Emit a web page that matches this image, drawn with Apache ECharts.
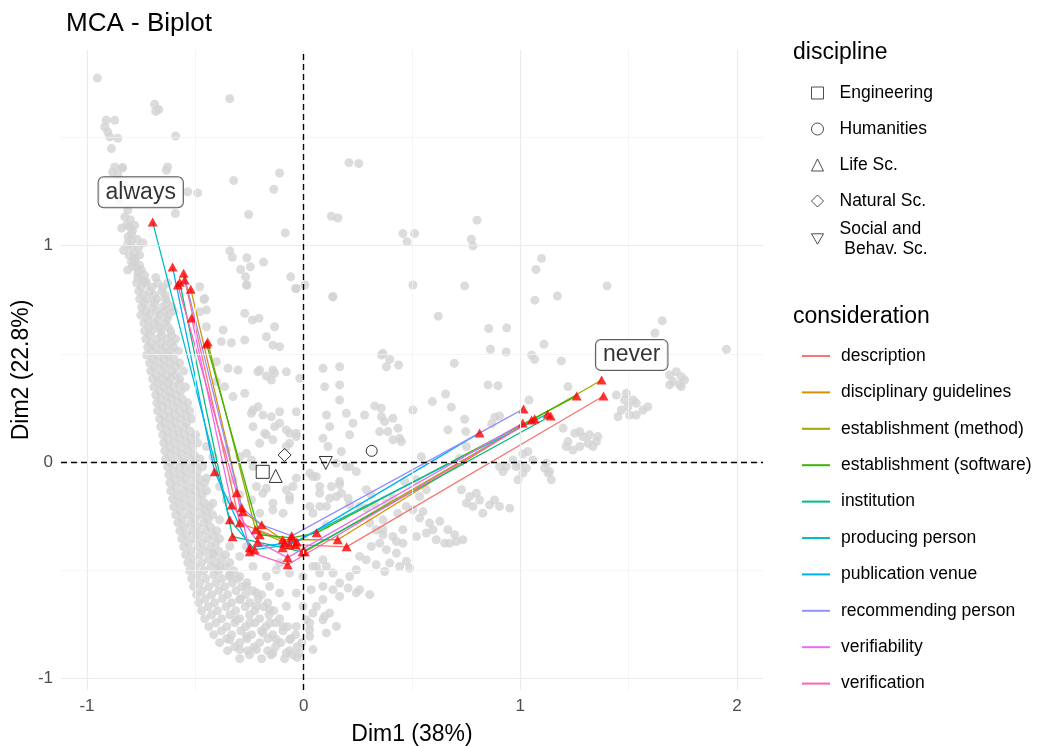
<!DOCTYPE html>
<html><head><meta charset="utf-8">
<script src="https://cdn.jsdelivr.net/npm/echarts@6/dist/echarts.min.js"></script>
<style>html,body{margin:0;padding:0;background:#fff}#c{width:1038px;height:746px}</style>
</head><body><div id="c"></div>
<script>
const FONT = '"Liberation Sans", Arial, sans-serif';

// axes
const xTicks = [-1, 0, 1, 2];
const yTicks = [-1, 0, 1];
const xMajorGrid = [-1, 0, 1, 2];
const xMinorGrid = [-0.5, 0.5, 1.5];
const yMajorGrid = [-1, 0, 1];
const yMinorGrid = [-0.5, 0.5, 1.5];
const refLines = [0];

// individuals (grey cloud)
const indUpperLeft = [
 [-0.952,1.775],[-0.688,1.654],[-0.669,1.630],[-0.683,1.621],[-0.911,1.580],[-0.872,1.580],[-0.918,1.549],
 [-0.904,1.526],[-0.895,1.503],[-0.858,1.497],[-0.887,1.449],[-0.591,1.507],[-0.341,1.680],[-0.872,1.364],
 [-0.835,1.361],[-0.882,1.341],[-0.628,1.364],[-0.634,1.349],[-0.535,1.249],[-0.489,1.244],[-0.592,1.149],
 [-0.323,1.301],[-0.111,1.336],[-0.138,1.261],[-0.254,1.144],[-0.085,1.059],
 [-0.826,1.133],[-0.818,1.095],[-0.803,1.087],[-0.780,1.095],[-0.795,1.056],[-0.811,1.041],[-0.742,1.013],
 [-0.795,0.994],[-0.780,0.964],[-0.757,0.956],[-0.772,0.902],[-0.749,0.887],[-0.765,0.871],[-0.742,0.841],
 [-0.795,0.925],[-0.683,0.853],[-0.840,1.358],[-0.858,1.326],[-0.826,1.279],[-0.849,1.210],[-0.812,1.164],
 [-0.840,1.081],[-0.794,1.025],[-0.831,0.979],[-0.785,0.942],[-0.757,0.910],[-0.812,0.887],[-0.766,0.850],
 [-0.734,0.864],[-0.800,1.120],[-0.790,1.070],[-0.770,1.030],[-0.762,0.990],[-0.778,0.935],[-0.760,0.880],
 [-0.728,0.835],[-0.812,1.010],[-0.805,0.955],[-0.790,0.905]
];
const indUpperMid = [
 [-0.341,0.976],[-0.329,0.946],[-0.262,0.944],[-0.291,0.890],[-0.246,0.902],[-0.185,0.924],[-0.268,0.856],
 [-0.262,0.818],[-0.060,0.856],[-0.037,0.802],[0.005,0.818],[0.209,1.384],[0.254,1.380],[0.128,1.136],
 [0.158,1.128],[0.458,1.056],[0.512,1.056],[0.477,1.018],[0.134,0.764],[-0.457,0.756],[-0.480,0.810],
 [0.800,1.118],[0.774,1.030],[0.781,0.999],[1.098,0.941],[1.072,0.890],[0.504,0.818],[0.743,0.814],
 [1.400,0.814],[1.171,0.767],[1.067,0.748],[0.621,0.674],[0.854,0.617],[0.937,0.620]
];
const indBand = [
 [-0.771,0.827],[-0.729,0.827],[-0.674,0.827],[-0.628,0.827],
 [-0.761,0.790],[-0.711,0.790],[-0.655,0.790],
 [-0.757,0.753],[-0.720,0.753],[-0.678,0.753],[-0.637,0.753],
 [-0.748,0.716],[-0.697,0.716],[-0.651,0.716],[-0.609,0.716],
 [-0.752,0.679],[-0.711,0.679],[-0.665,0.679],[-0.623,0.679],
 [-0.738,0.642],[-0.688,0.642],[-0.641,0.642],
 [-0.734,0.605],[-0.701,0.605],[-0.660,0.605],[-0.614,0.605],
 [-0.729,0.568],[-0.678,0.568],[-0.632,0.568],[-0.591,0.568],
 [-0.720,0.531],[-0.683,0.531],[-0.641,0.531],[-0.600,0.531],
 [-0.725,0.494],[-0.674,0.494],[-0.628,0.494],
 [-0.711,0.457],[-0.665,0.457],[-0.618,0.457],[-0.572,0.457],
 [-0.706,0.420],[-0.655,0.420],[-0.609,0.420],[-0.554,0.420],
 [-0.697,0.383],[-0.655,0.383],[-0.614,0.383],[-0.572,0.383],
 [-0.692,0.346],[-0.646,0.346],[-0.600,0.346],[-0.545,0.346],
 [-0.683,0.309],[-0.637,0.309],[-0.591,0.309],
 [-0.678,0.273],[-0.632,0.273],[-0.581,0.273],[-0.535,0.273],
 [-0.674,0.236],[-0.623,0.236],[-0.572,0.236],[-0.526,0.236],
 [-0.665,0.199],[-0.618,0.199],[-0.568,0.199],[-0.517,0.199],
 [-0.660,0.162],[-0.609,0.162],[-0.554,0.162],
 [-0.651,0.125],[-0.600,0.125],[-0.549,0.125],[-0.498,0.125],
 [-0.646,0.088],[-0.595,0.088],[-0.540,0.088],[-0.489,0.088],
 [-0.641,0.051],[-0.591,0.051],[-0.535,0.051],
 [-0.637,0.014],[-0.581,0.014],[-0.526,0.014],[-0.480,0.014],
 [-0.628,-0.023],[-0.572,-0.023],[-0.517,-0.023],[-0.466,-0.023],
 [-0.623,-0.060],[-0.568,-0.060],[-0.512,-0.060],
 [-0.618,-0.097],[-0.563,-0.097],[-0.503,-0.097],[-0.457,-0.097],
 [-0.614,-0.134],[-0.554,-0.134],[-0.498,-0.134],[-0.448,-0.134],
 [-0.605,-0.171],[-0.549,-0.171],[-0.489,-0.171],
 [-0.600,-0.208],[-0.540,-0.208],[-0.480,-0.208],[-0.434,-0.208],
 [-0.591,-0.245],[-0.531,-0.245],[-0.471,-0.245],[-0.420,-0.245],
 [-0.581,-0.282],[-0.521,-0.282],[-0.461,-0.282],
 [-0.572,-0.319],[-0.512,-0.319],[-0.452,-0.319],[-0.401,-0.319],
 [-0.563,-0.356],[-0.503,-0.356],[-0.443,-0.356],[-0.388,-0.356],
 [-0.554,-0.393],[-0.489,-0.393],[-0.429,-0.393],
 [-0.545,-0.430],[-0.480,-0.430],[-0.415,-0.430],[-0.360,-0.430],
 [-0.535,-0.467],[-0.471,-0.467],[-0.406,-0.467],[-0.341,-0.467],
 [-0.526,-0.503],[-0.461,-0.503],[-0.392,-0.503],[-0.323,-0.503],
 [-0.517,-0.540],[-0.452,-0.540],[-0.378,-0.540],[-0.305,-0.540],
 [-0.508,-0.577],[-0.438,-0.577],[-0.365,-0.577],[-0.286,-0.577],
 [-0.494,-0.614],[-0.425,-0.614],[-0.351,-0.614],[-0.268,-0.614],[-0.194,-0.614],
 [-0.485,-0.651],[-0.411,-0.651],[-0.332,-0.651],[-0.249,-0.651],[-0.166,-0.651],
 [-0.471,-0.688],[-0.397,-0.688],[-0.314,-0.688],[-0.226,-0.688],[-0.138,-0.688],
 [-0.457,-0.725],[-0.378,-0.725],[-0.295,-0.725],[-0.203,-0.725],[-0.111,-0.725],
 [-0.438,-0.762],[-0.355,-0.762],[-0.268,-0.762],[-0.175,-0.762],[-0.074,-0.762],
 [-0.415,-0.799],[-0.332,-0.799],[-0.240,-0.799],[-0.143,-0.799],[-0.037,-0.799],
 [-0.388,-0.836],[-0.295,-0.836],[-0.203,-0.836],[-0.106,-0.836],[-0.009,-0.836],
 [-0.351,-0.873],[-0.258,-0.873],[-0.166,-0.873],[-0.065,-0.873],
 [-0.295,-0.910],[-0.194,-0.910],[-0.088,-0.910],[-0.030,-0.905]
];
const indBandFill = [
 [-0.750,0.808],[-0.700,0.808],[-0.650,0.808],
 [-0.740,0.771],[-0.690,0.771],[-0.640,0.771],
 [-0.735,0.734],[-0.688,0.734],[-0.630,0.734],
 [-0.728,0.697],[-0.680,0.697],[-0.640,0.697],[-0.600,0.697],
 [-0.720,0.660],[-0.675,0.660],[-0.630,0.660],
 [-0.715,0.623],[-0.668,0.623],[-0.625,0.623],
 [-0.712,0.586],[-0.655,0.586],[-0.610,0.586],
 [-0.705,0.549],[-0.658,0.549],[-0.612,0.549],
 [-0.700,0.512],[-0.655,0.512],[-0.615,0.512],[-0.578,0.512],
 [-0.695,0.475],[-0.645,0.475],[-0.598,0.475],
 [-0.688,0.438],[-0.640,0.438],[-0.590,0.438],
 [-0.680,0.401],[-0.632,0.401],[-0.590,0.401],
 [-0.672,0.364],[-0.625,0.364],[-0.575,0.364],
 [-0.665,0.327],[-0.620,0.327],[-0.568,0.327],
 [-0.660,0.291],[-0.610,0.291],[-0.560,0.291],
 [-0.652,0.254],[-0.600,0.254],[-0.550,0.254],
 [-0.645,0.217],[-0.595,0.217],[-0.545,0.217],
 [-0.640,0.180],[-0.590,0.180],[-0.540,0.180],
 [-0.630,0.143],[-0.578,0.143],[-0.525,0.143],
 [-0.625,0.106],[-0.572,0.106],[-0.518,0.106],
 [-0.620,0.069],[-0.565,0.069],[-0.512,0.069],
 [-0.615,0.032],[-0.560,0.032],[-0.505,0.032],
 [-0.610,-0.005],[-0.552,-0.005],[-0.500,-0.005],
 [-0.600,-0.042],[-0.545,-0.042],[-0.490,-0.042],
 [-0.595,-0.079],[-0.540,-0.079],[-0.482,-0.079],
 [-0.590,-0.116],[-0.530,-0.116],[-0.475,-0.116],
 [-0.582,-0.153],[-0.522,-0.153],[-0.468,-0.153],
 [-0.575,-0.190],[-0.515,-0.190],[-0.458,-0.190],
 [-0.568,-0.227],[-0.508,-0.227],[-0.450,-0.227],
 [-0.560,-0.264],[-0.500,-0.264],[-0.440,-0.264],
 [-0.550,-0.301],[-0.490,-0.301],[-0.430,-0.301],
 [-0.540,-0.338],[-0.480,-0.338],[-0.418,-0.338],
 [-0.530,-0.375],[-0.468,-0.375],[-0.405,-0.375],
 [-0.520,-0.412],[-0.455,-0.412],[-0.392,-0.412],
 [-0.510,-0.449],[-0.440,-0.449],[-0.378,-0.449],
 [-0.500,-0.485],[-0.428,-0.485],[-0.360,-0.485],
 [-0.490,-0.522],[-0.415,-0.522],[-0.342,-0.522],
 [-0.480,-0.559],[-0.405,-0.559],[-0.330,-0.559],[-0.262,-0.559],
 [-0.470,-0.596],[-0.392,-0.596],[-0.312,-0.596],[-0.235,-0.596],
 [-0.455,-0.633],[-0.375,-0.633],[-0.292,-0.633],[-0.210,-0.633],
 [-0.440,-0.670],[-0.358,-0.670],[-0.270,-0.670],[-0.185,-0.670],
 [-0.425,-0.707],[-0.340,-0.707],[-0.250,-0.707],[-0.160,-0.707],
 [-0.405,-0.744],[-0.318,-0.744],[-0.225,-0.744],[-0.130,-0.744],
 [-0.380,-0.781],[-0.290,-0.781],[-0.195,-0.781],[-0.095,-0.781],
 [-0.355,-0.818],[-0.262,-0.818],[-0.165,-0.818],[-0.060,-0.818],
 [-0.318,-0.855],[-0.228,-0.855],[-0.130,-0.855],[-0.030,-0.855],
 [-0.250,-0.892],[-0.150,-0.892],[-0.050,-0.892]
];
const indMiddle = [
 [-0.264,0.818],[-0.034,0.802],[0.135,0.764],[-0.449,0.702],[-0.272,0.687],[-0.237,0.656],[-0.206,0.664],
 [-0.372,0.610],[-0.380,0.556],[-0.334,0.551],[-0.172,0.579],[-0.142,0.540],[-0.111,0.533],[-0.134,0.625],
 [-0.403,0.463],[-0.203,0.425],[-0.142,0.425],[-0.080,0.417],[-0.149,0.379],[-0.018,0.387],[-0.326,0.302],
 [-0.272,0.317],[-0.234,0.240],[-0.188,0.217],[-0.149,0.209],[-0.111,0.232],[-0.034,0.232],[-0.234,0.163],
 [-0.180,0.132],[-0.134,0.163],[-0.111,0.179],[-0.065,0.132],[-0.034,0.132],[-0.142,0.102],[-0.203,0.086],
 [-0.264,0.040],[-0.234,-0.022],[-0.065,0.086],[0.089,0.433],[0.166,0.440],[0.097,0.348],[0.166,0.356],
 [0.166,0.286],[0.328,0.259],[0.281,0.217],[0.359,0.209],[0.105,0.217],[0.120,0.163],[0.089,0.109],
 [0.197,0.225],[0.228,0.179],[0.212,0.125],[0.351,0.140],[0.443,0.109],[0.359,0.494],[0.151,-0.006],
 [0.197,-0.022],[0.059,-0.068],[0.074,-0.114],[0.166,-0.091],[0.151,-0.160],[-0.065,-0.160],[-0.049,-0.114],
 [-0.218,-0.114],[-0.188,-0.145],[-0.241,-0.176],[-0.203,-0.237],[-0.142,-0.222],[-0.095,-0.237],
 [0.043,-0.237],[0.074,-0.206],[0.105,-0.291],
 [-0.460,0.751],[-0.480,0.694],[-0.449,0.625],[-0.403,0.371],[-0.365,0.348],[-0.211,0.417],[-0.172,0.397],
 [-0.134,0.410],[-0.272,0.564],[-0.211,0.255],[-0.241,0.225],[-0.349,0.433],[-0.303,0.425],
 [-0.172,0.125],[-0.080,0.148],[-0.034,0.117],[-0.080,0.071],[-0.449,0.071],[-0.419,0.024],[-0.357,0.055],
 [-0.295,0.024],[-0.241,0.009],[-0.449,-0.075],[-0.388,-0.114],[-0.326,-0.083],[-0.295,-0.152],
 [-0.172,-0.122],[-0.080,-0.129],[-0.034,-0.075],[0.028,-0.052],[0.105,-0.206],[0.028,-0.206],
 [-0.065,-0.176],[-0.142,-0.191],[-0.419,-0.191],[-0.357,-0.176],[-0.388,-0.268]
];
const indLower = [
 [-0.295,-0.530],[-0.234,-0.484],[-0.172,-0.530],[-0.111,-0.468],[-0.065,-0.514],[-0.003,-0.530],
 [0.059,-0.484],[0.089,-0.453],[-0.034,-0.606],[-0.111,-0.606],[-0.157,-0.576],[-0.218,-0.606],
 [-0.264,-0.576],[-0.295,-0.637],[-0.218,-0.668],[-0.157,-0.684],[-0.080,-0.668],[-0.003,-0.668],
 [0.059,-0.668],[0.120,-0.699],[-0.157,-0.745],[-0.095,-0.761],[-0.034,-0.761],[0.028,-0.745],
 [0.089,-0.730],[0.105,-0.791],[0.028,-0.807],[-0.065,-0.822],[-0.126,-0.822],[-0.188,-0.791],
 [-0.249,-0.745],[-0.311,-0.730],[-0.264,-0.807],[-0.341,-0.822],[-0.295,-0.868],[-0.218,-0.868],
 [-0.142,-0.884],[-0.080,-0.884],[-0.018,-0.884],[0.043,-0.868],[-0.341,-0.391],[-0.419,-0.422],
 [-0.388,-0.484],[-0.341,-0.530],[-0.295,-0.437],[-0.264,-0.391],[-0.126,-0.499]
];
const indRight = [
 [1.655,0.653],[1.621,0.596],[1.951,0.521],[1.109,0.544],[1.052,0.494],[1.066,0.474],[0.862,0.521],
 [0.935,0.508],[1.189,0.467],[0.366,0.502],[0.397,0.474],[0.382,0.440],[0.438,0.448],[0.695,0.456],
 [0.851,0.356],[0.897,0.352],[1.220,0.348],[0.655,0.314],[0.682,0.253],[0.594,0.279],[1.040,0.286],
 [0.504,0.240],[0.358,0.248],[0.412,0.202],[0.374,0.186],[0.435,0.156],[0.743,0.197],[0.882,0.206],
 [0.904,0.212],[0.868,0.176],[0.666,0.148],[0.748,0.140],[0.412,0.102],[0.451,0.094],[0.389,0.140],
 [0.543,0.024],[0.751,0.071],[0.720,0.017],[1.035,0.048],[1.012,0.037],[1.197,0.156],
 [1.251,0.132],[1.274,0.140],[1.289,0.117],[1.320,0.125],[1.358,0.117],[1.351,0.094],[1.312,0.086],
 [1.274,0.071],[1.243,0.055],[1.220,0.094],[1.212,0.071],[1.335,0.071],
 [1.443,0.309],[1.489,0.317],[1.520,0.286],[1.497,0.255],[1.466,0.240],[1.451,0.209],[1.535,0.217],
 [1.566,0.240],[1.589,0.255],[1.535,0.271],[1.481,0.286],[1.504,0.217],
 [1.689,0.402],[1.720,0.417],[1.743,0.394],[1.758,0.379],[1.704,0.371],[1.735,0.356],[1.689,0.356],
 [1.743,0.348],
 [1.120,-0.006],[1.135,-0.045],[1.112,-0.029],[0.981,-0.022],[1.012,-0.052],[0.989,-0.083],[1.028,-0.029],
 [0.935,-0.022],[0.920,-0.045],[0.904,-0.022],[0.997,-0.014],[1.058,0.009],[1.128,-0.052],[1.143,-0.083],
 [0.966,0.009],
 [0.728,-0.129],[0.766,-0.160],[0.797,-0.145],[0.812,-0.176],[0.781,-0.206],[0.827,-0.237],[0.858,-0.199],
 [0.881,-0.176],[0.904,-0.206],[0.951,-0.214],[0.751,-0.191],
 [0.504,-0.222],[0.535,-0.260],[0.581,-0.283],[0.628,-0.275],[0.666,-0.314],[0.697,-0.337],[0.735,-0.360],
 [0.566,-0.329],[0.612,-0.360],[0.651,-0.376],[0.458,-0.314],[0.412,-0.345],[0.366,-0.314],
 [0.551,-0.230],[0.674,-0.376],[0.597,-0.314],[0.705,-0.368],[0.520,-0.345],
 [0.112,0.071],[0.174,0.048],[0.212,-0.022],[0.243,-0.045],[0.043,-0.068],[0.074,-0.145],[0.128,-0.114],
 [0.166,-0.106],[0.174,-0.145],[0.120,-0.168],[0.205,-0.168],[0.212,-0.199],[0.289,-0.129],[0.312,-0.152],
 [0.258,-0.206],[0.289,-0.214],[0.328,-0.199],[0.382,-0.191],[0.412,-0.168],[0.466,-0.091],[0.520,-0.083],
 [0.566,-0.129],[0.535,-0.160],[0.474,-0.206],[0.435,-0.237],[0.366,-0.268],[0.305,-0.283],[0.335,-0.314],
 [0.366,-0.337],[0.351,-0.376],[0.312,-0.391],[0.382,-0.406],[0.428,-0.422],[0.458,-0.376],[0.428,-0.368],
 [0.474,-0.460],[0.489,-0.491],[0.443,-0.484],[0.397,-0.468],[0.374,-0.507],[0.335,-0.476],[0.289,-0.453],
 [0.258,-0.437],[0.243,-0.499],[0.212,-0.530],[0.166,-0.560],[0.135,-0.591],[0.205,-0.583],[0.258,-0.591],
 [0.305,-0.614],[0.243,-0.606],[0.166,-0.622],[0.089,-0.576],[0.074,-0.514],[0.043,-0.484],[0.105,-0.484],
 [0.135,-0.514],[0.035,-0.591],[0.089,-0.637],[0.043,-0.699],[0.012,-0.730],[0.097,-0.714],[0.151,-0.761],
 [0.028,-0.776]
];

// supplementary categories (discipline)
const disciplineNames = ['Engineering', 'Humanities', 'Life Sc.', 'Natural Sc.', 'Social and\n Behav. Sc.'];
const disciplineX = [-0.189, 0.314, -0.129, -0.088, 0.102];
const disciplineY = [-0.046, 0.051, -0.065, 0.032, -0.005];
const disciplineSymbols = ['rect', 'circle', 'triangle', 'diamond', 'path://M0,0L10,0L5,8.66Z'];

// consideration paths: always -> often -> sometimes -> rarely -> never
const considerationNames = ['description', 'disciplinary guidelines', 'establishment (method)',
  'establishment (software)', 'institution', 'producing person', 'publication venue',
  'recommending person', 'verifiability', 'verification'];
const considerationColors = ['#F8766D', '#D89000', '#A3A500', '#39B600', '#00BF7D', '#00BFC4',
  '#00B0F6', '#9590FF', '#E76BF3', '#FF62BC'];
const pathDescription = [[-0.549,0.841],[-0.295,-0.282],[-0.037,-0.383],[0.198,-0.393],[1.384,0.305]];
const pathGuidelines = [[-0.521,0.799],[-0.281,-0.231],[-0.097,-0.360],[0.157,-0.360],[1.052,0.194]];
const pathMethod = [[-0.443,0.554],[-0.222,-0.314],[-0.088,-0.374],[0.005,-0.416],[1.375,0.379]];
const pathSoftware = [[-0.448,0.545],[-0.203,-0.337],[-0.055,-0.351],[0.060,-0.328],[1.260,0.305]];
const pathInstitution = [[-0.572,0.831],[-0.328,-0.346],[-0.097,-0.397],[-0.005,-0.416],[1.140,0.212]];
const pathProducing = [[-0.697,1.109],[-0.341,-0.268],[-0.226,-0.406],[-0.065,-0.383],[1.126,0.222]];
const pathVenue = [[-0.605,0.901],[-0.411,-0.046],[-0.249,-0.397],[-0.032,-0.370],[0.812,0.134]];
const pathRecommending = [[-0.554,0.873],[-0.286,-0.212],[-0.194,-0.291],[-0.055,-0.342],[1.015,0.245]];
const pathVerifiability = [[-0.517,0.665],[-0.332,-0.199],[-0.212,-0.370],[-0.074,-0.443],[1.011,0.180]];
const pathVerification = [[-0.581,0.818],[-0.309,-0.143],[-0.249,-0.416],[-0.074,-0.476],[1.066,0.199]];
const considerationPaths = [pathDescription, pathGuidelines, pathMethod, pathSoftware, pathInstitution,
  pathProducing, pathVenue, pathRecommending, pathVerifiability, pathVerification];

// extreme level labels
const extremeLabels = ['always', 'never'];
const extremeX = [-0.752, 1.514];
const extremeY = [1.247, 0.494];

const chart = echarts.init(document.getElementById('c'), null, {renderer: 'canvas'});

const gridLineData = []
  .concat(xMajorGrid.map(v => ({xAxis: v, lineStyle: {color: '#ebebeb', width: 1.2, type: 'solid'}})))
  .concat(xMinorGrid.map(v => ({xAxis: v, lineStyle: {color: '#f3f3f3', width: 0.8, type: 'solid'}})))
  .concat(yMajorGrid.map(v => ({yAxis: v, lineStyle: {color: '#ebebeb', width: 1.2, type: 'solid'}})))
  .concat(yMinorGrid.map(v => ({yAxis: v, lineStyle: {color: '#f3f3f3', width: 0.8, type: 'solid'}})));

const series = [];
series.push({
  type: 'scatter', name: '_grid', data: [], z: 0, silent: true,
  markLine: {silent: true, symbol: ['none', 'none'], animation: false, label: {show: false}, data: gridLineData}
});
series.push({
  type: 'scatter', name: '_ind', z: 1, silent: true, symbolSize: 9,
  itemStyle: {color: '#d3d3d3'},
  data: [].concat(indUpperLeft, indUpperMid, indBand, indBandFill, indMiddle, indLower, indRight)
});
series.push({
  type: 'scatter', name: '_ref', data: [], z: 2, silent: true,
  markLine: {silent: true, symbol: ['none', 'none'], animation: false, label: {show: false},
    lineStyle: {color: '#000', width: 1.4, type: [6, 4]},
    data: refLines.map(v => ({xAxis: v})).concat(refLines.map(v => ({yAxis: v})))}
});
considerationNames.forEach((n, i) => {
  series.push({
    type: 'line', name: n, data: considerationPaths[i], z: 3, symbol: 'none', showSymbol: false,
    silent: true, lineStyle: {color: considerationColors[i], width: 1.3},
    itemStyle: {color: considerationColors[i]}
  });
});
series.push({
  type: 'scatter', name: '_tri', z: 4, silent: true, symbol: 'triangle', symbolSize: [10, 9],
  itemStyle: {color: '#ff0000'},
  data: [].concat(...considerationPaths)
});
disciplineNames.forEach((n, i) => {
  series.push({
    type: 'scatter', name: n, z: 5, silent: true, symbol: disciplineSymbols[i],
    symbolSize: i === 1 ? 11 : 13,
    itemStyle: {color: 'rgba(0,0,0,0)', borderColor: '#000', borderWidth: 1},
    data: [[disciplineX[i], disciplineY[i]]]
  });
});
series.push({
  type: 'scatter', name: '_lab', z: 6, silent: true, symbolSize: 1,
  itemStyle: {color: 'rgba(0,0,0,0)'},
  label: {show: true, position: 'inside', formatter: '{b}', fontSize: 23, color: '#000', fontFamily: FONT,
    backgroundColor: '#fff', borderColor: '#333', borderWidth: 1, borderRadius: 5, padding: [4, 7, 3, 7]},
  data: extremeLabels.map((n, i) => ({name: n, value: [extremeX[i], extremeY[i]]}))
});

const legendText = {fontSize: 17.5, color: '#000', fontFamily: FONT, lineHeight: 20};
const legendShapeStyle = {color: 'rgba(0,0,0,0)', borderColor: '#222', borderWidth: 1};

chart.setOption({
  animation: false,
  textStyle: {fontFamily: FONT},
  title: [
    {text: 'MCA - Biplot', left: 66, top: 11, padding: 0, textStyle: {fontSize: 26, fontWeight: 'normal', color: '#000', fontFamily: FONT}},
    {text: 'discipline', left: 793, top: 41, padding: 0, textStyle: {fontSize: 23, fontWeight: 'normal', color: '#000', fontFamily: FONT}},
    {text: 'consideration', left: 793, top: 305, padding: 0, textStyle: {fontSize: 23, fontWeight: 'normal', color: '#000', fontFamily: FONT}}
  ],
  grid: {left: 61, right: 275, top: 50, bottom: 56, containLabel: false, outerBoundsMode: 'none'},
  xAxis: {
    type: 'value', min: -1.12, max: 2.12,
    splitLine: {show: false},
    axisLine: {show: true, lineStyle: {color: 'rgba(0,0,0,0)'}},
    axisTick: {show: true, length: 4, lineStyle: {color: '#333', width: 1}, customValues: xTicks},
    axisLabel: {customValues: xTicks, color: '#4d4d4d', fontSize: 17, margin: 8, fontFamily: FONT},
    name: 'Dim1 (38%)', nameLocation: 'middle', nameGap: 33,
    nameTextStyle: {fontSize: 23, color: '#000', fontFamily: FONT}
  },
  yAxis: {
    type: 'value', min: -1.055, max: 1.905,
    splitLine: {show: false},
    axisLine: {show: true, lineStyle: {color: 'rgba(0,0,0,0)'}},
    axisTick: {show: true, length: 4, lineStyle: {color: '#333', width: 1}, customValues: yTicks},
    axisLabel: {customValues: yTicks, color: '#4d4d4d', fontSize: 17, margin: 8, fontFamily: FONT},
    name: 'Dim2 (22.8%)', nameLocation: 'middle', nameGap: 28, nameMoveOverlap: false,
    nameTextStyle: {fontSize: 23, color: '#000', fontFamily: FONT}
  },
  legend: [
    {data: disciplineNames.slice(0, 4), orient: 'vertical', left: 806, top: 78, itemWidth: 12, itemHeight: 12,
     itemGap: 16, selectedMode: false, itemStyle: legendShapeStyle,
     textStyle: Object.assign({padding: [0, 0, 0, 11]}, legendText)},
    {data: disciplineNames.slice(4), orient: 'vertical', left: 806, top: 214, itemWidth: 12, itemHeight: 12,
     itemGap: 16, selectedMode: false, itemStyle: legendShapeStyle,
     textStyle: Object.assign({padding: [0, 0, 0, 11]}, legendText)},
    {data: considerationNames.map((n, i) => ({name: n, icon: 'rect', itemStyle: {color: considerationColors[i]}})),
     orient: 'vertical', left: 797, top: 341, itemWidth: 28, itemHeight: 2,
     itemGap: 16.4, selectedMode: false, textStyle: Object.assign({padding: [0, 0, 0, 6]}, legendText)}
  ],
  series: series
});
</script></body></html>
